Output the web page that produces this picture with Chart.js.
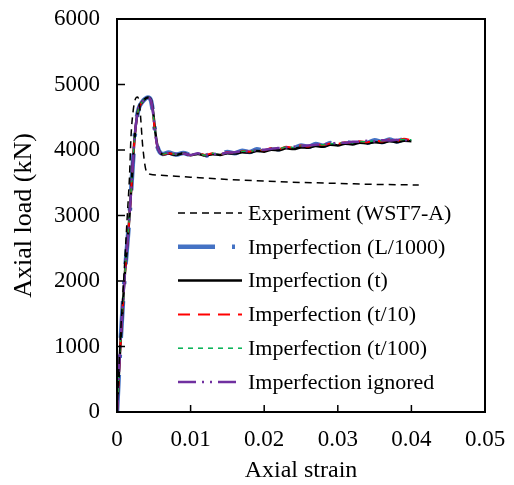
<!DOCTYPE html>
<html>
<head>
<meta charset="utf-8">
<script src="https://cdn.jsdelivr.net/npm/chart.js@4.4.1/dist/chart.umd.min.js"></script>
<style>
  html, body { margin: 0; padding: 0; background: #fff; }
  #wrap { width: 514px; height: 485px; }
</style>
</head>
<body>
<div id="wrap"><canvas id="chart"></canvas></div>
<script>
// test data (WST7-A)
const expStrain = [0, 0.0004, 0.0009, 0.0014, 0.0017, 0.0019, 0.0022, 0.0025, 0.0028, 0.0031, 0.0035, 0.004, 0.0045,
  0.006, 0.008, 0.01, 0.015, 0.02, 0.025, 0.03, 0.035, 0.041];
const expLoad = [0, 1000, 2000, 3000, 3600, 4200, 4600, 4780, 4810, 4650, 4050, 3670, 3630,
  3615, 3600, 3585, 3550, 3525, 3505, 3490, 3475, 3466];

// FE strain points, shared by all imperfection cases
const feStrain = [0, 0.00045, 0.001, 0.0017, 0.0021, 0.0024, 0.0027, 0.003, 0.0034, 0.0038, 0.0042, 0.0046, 0.0049,
  0.0052, 0.0055, 0.0058, 0.0062,
  0.007, 0.008, 0.009, 0.010, 0.011, 0.012, 0.013, 0.014, 0.015, 0.016, 0.017, 0.018, 0.019, 0.020,
  0.021, 0.022, 0.023, 0.024, 0.025, 0.026, 0.027, 0.028, 0.029, 0.030, 0.031, 0.032, 0.033, 0.034,
  0.035, 0.036, 0.037, 0.038, 0.039, 0.040];

const loadL1000 = [0, 1000, 2000, 3000, 3700, 4200, 4500, 4650, 4730, 4780, 4800, 4760, 4560, 4250, 4050, 3970, 3940,
  3960, 3930, 3955, 3925, 3950, 3915, 3945, 3935, 3970, 3950, 3990, 3970, 4010, 3990, 4035, 4010, 4055,
  4030, 4070, 4050, 4090, 4065, 4105, 4085, 4125, 4100, 4140, 4110, 4150, 4120, 4160, 4130, 4165, 4145];
const loadT = [0, 1000, 2000, 3000, 3700, 4200, 4500, 4650, 4730, 4780, 4800, 4770, 4590, 4280, 4060, 3970, 3935,
  3945, 3925, 3950, 3920, 3940, 3915, 3935, 3925, 3950, 3945, 3965, 3960, 3985, 3975, 4005, 3995, 4025,
  4015, 4040, 4035, 4060, 4050, 4080, 4070, 4095, 4085, 4110, 4100, 4120, 4110, 4135, 4120, 4140, 4135];
const loadT10 = [0, 980, 1990, 2990, 3690, 4190, 4490, 4650, 4730, 4775, 4795, 4755, 4550, 4240, 4040, 3960, 3930,
  3950, 3935, 3945, 3920, 3955, 3925, 3950, 3930, 3965, 3955, 3985, 3975, 4005, 3995, 4030, 4015, 4050,
  4035, 4070, 4055, 4085, 4075, 4100, 4095, 4120, 4105, 4135, 4120, 4145, 4130, 4160, 4140, 4170, 4150];
const loadT100 = [0, 990, 2000, 3000, 3700, 4200, 4500, 4650, 4730, 4780, 4798, 4758, 4555, 4245, 4045, 3965, 3935,
  3955, 3930, 3950, 3930, 3945, 3920, 3950, 3935, 3960, 3960, 3980, 3980, 4000, 4000, 4025, 4020, 4045,
  4040, 4065, 4060, 4080, 4080, 4095, 4100, 4115, 4110, 4130, 4125, 4140, 4140, 4155, 4150, 4160, 4155];
const loadIgnored = [0, 1000, 2000, 3000, 3700, 4200, 4500, 4650, 4730, 4780, 4800, 4760, 4560, 4250, 4050, 3970, 3940,
  3955, 3940, 3945, 3925, 3950, 3920, 3940, 3940, 3960, 3965, 3980, 3985, 4000, 4005, 4020, 4030, 4040,
  4050, 4060, 4070, 4080, 4090, 4095, 4110, 4110, 4125, 4125, 4140, 4135, 4150, 4145, 4155, 4150, 4160];

const seriesNames = ['Experiment (WST7-A)', 'Imperfection (L/1000)', 'Imperfection (t)',
  'Imperfection (t/10)', 'Imperfection (t/100)', 'Imperfection ignored'];

const FONT = "'Liberation Serif', 'Times New Roman', serif";

function pts(xs, ys) {
  return xs.map((x, i) => ({ x: x, y: ys[i] }));
}

// box frame + inward ticks + legend inside the plot
const framePlugin = {
  id: 'frame',
  afterDraw(chart) {
    const { ctx, chartArea: a, scales } = chart;
    ctx.save();
    ctx.strokeStyle = '#000';
    ctx.lineWidth = 2;
    ctx.strokeRect(a.left, a.top, a.right - a.left, a.bottom - a.top);
    ctx.lineWidth = 1.5;
    ctx.beginPath();
    scales.y.ticks.forEach(t => {
      const y = scales.y.getPixelForValue(t.value);
      ctx.moveTo(a.left, y); ctx.lineTo(a.left + 8, y);
    });
    scales.x.ticks.forEach(t => {
      const x = scales.x.getPixelForValue(t.value);
      ctx.moveTo(x, a.bottom); ctx.lineTo(x, a.bottom - 7);
    });
    ctx.stroke();

    // legend
    const x0 = 178, x1 = 242, textX = 248;
    let y = 213;
    ctx.font = '22px ' + FONT;
    ctx.textBaseline = 'middle';
    ctx.fillStyle = '#000';
    chart.data.datasets.forEach(ds => {
      ctx.beginPath();
      ctx.setLineDash(ds.borderDash || []);
      ctx.strokeStyle = ds.borderColor;
      ctx.lineWidth = ds.borderWidth;
      ctx.lineCap = ds.borderCapStyle || 'butt';
      ctx.moveTo(x0, y); ctx.lineTo(x1, y);
      ctx.stroke();
      ctx.setLineDash([]);
      ctx.fillText(ds.label, textX, y + 1);
      y += 33.8;
    });
    ctx.restore();
  }
};

new Chart(document.getElementById('chart'), {
  type: 'line',
  data: {
    datasets: [
      { label: seriesNames[0], data: pts(expStrain, expLoad), borderColor: '#000000',
        borderWidth: 1.5, borderDash: [7, 5], order: 0 },
      { label: seriesNames[1], data: pts(feStrain, loadL1000), borderColor: '#4472C4',
        borderWidth: 4.5, borderDash: [37, 17, 3, 17], order: 5 },
      { label: seriesNames[2], data: pts(feStrain, loadT), borderColor: '#000000',
        borderWidth: 2.5, order: 4 },
      { label: seriesNames[3], data: pts(feStrain, loadT10), borderColor: '#FF0000',
        borderWidth: 2, borderDash: [12, 8], order: 3 },
      { label: seriesNames[4], data: pts(feStrain, loadT100), borderColor: '#00B050',
        borderWidth: 1.5, borderDash: [5, 5], order: 2 },
      { label: seriesNames[5], data: pts(feStrain, loadIgnored), borderColor: '#7030A0',
        borderWidth: 2.5, borderDash: [18, 6, 2, 6, 2, 6], order: 1 }
    ]
  },
  options: {
    responsive: true,
    maintainAspectRatio: false,
    animation: false,
    elements: {
      point: { radius: 0 },
      line: { tension: 0, fill: false, cubicInterpolationMode: 'monotone' }
    },
    layout: { padding: { left: 0, right: 29, top: 19, bottom: 0 } },
    plugins: {
      legend: { display: false },
      tooltip: { enabled: false }
    },
    scales: {
      x: {
        type: 'linear',
        min: 0, max: 0.05,
        grid: { display: false, drawTicks: false },
        border: { display: true, color: '#000', width: 2 },
        ticks: {
          stepSize: 0.01, padding: 14, color: '#000',
          font: { family: FONT, size: 23 },
          maxRotation: 0,
          callback: v => v === 0 ? '0' : v.toFixed(2)
        },
        title: { display: true, text: 'Axial strain', color: '#000',
          font: { family: FONT, size: 24 }, padding: { top: 0, bottom: 0 } },
        afterFit: s => { s.height = 73; s.paddingLeft = 0; s.paddingRight = 0; }
      },
      y: {
        min: 0, max: 6000,
        grid: { display: false, drawTicks: false },
        border: { display: true, color: '#000', width: 2 },
        ticks: {
          stepSize: 1000, padding: 17, color: '#000',
          font: { family: FONT, size: 23 },
          callback: v => String(v)
        },
        title: { display: true, text: 'Axial load (kN)', color: '#000',
          font: { family: FONT, size: 26 }, padding: { top: 9, bottom: 0 } },
        afterFit: s => { s.width = 117; s.paddingTop = 0; s.paddingBottom = 0; }
      }
    }
  },
  plugins: [framePlugin]
});
</script>
</body>
</html>
